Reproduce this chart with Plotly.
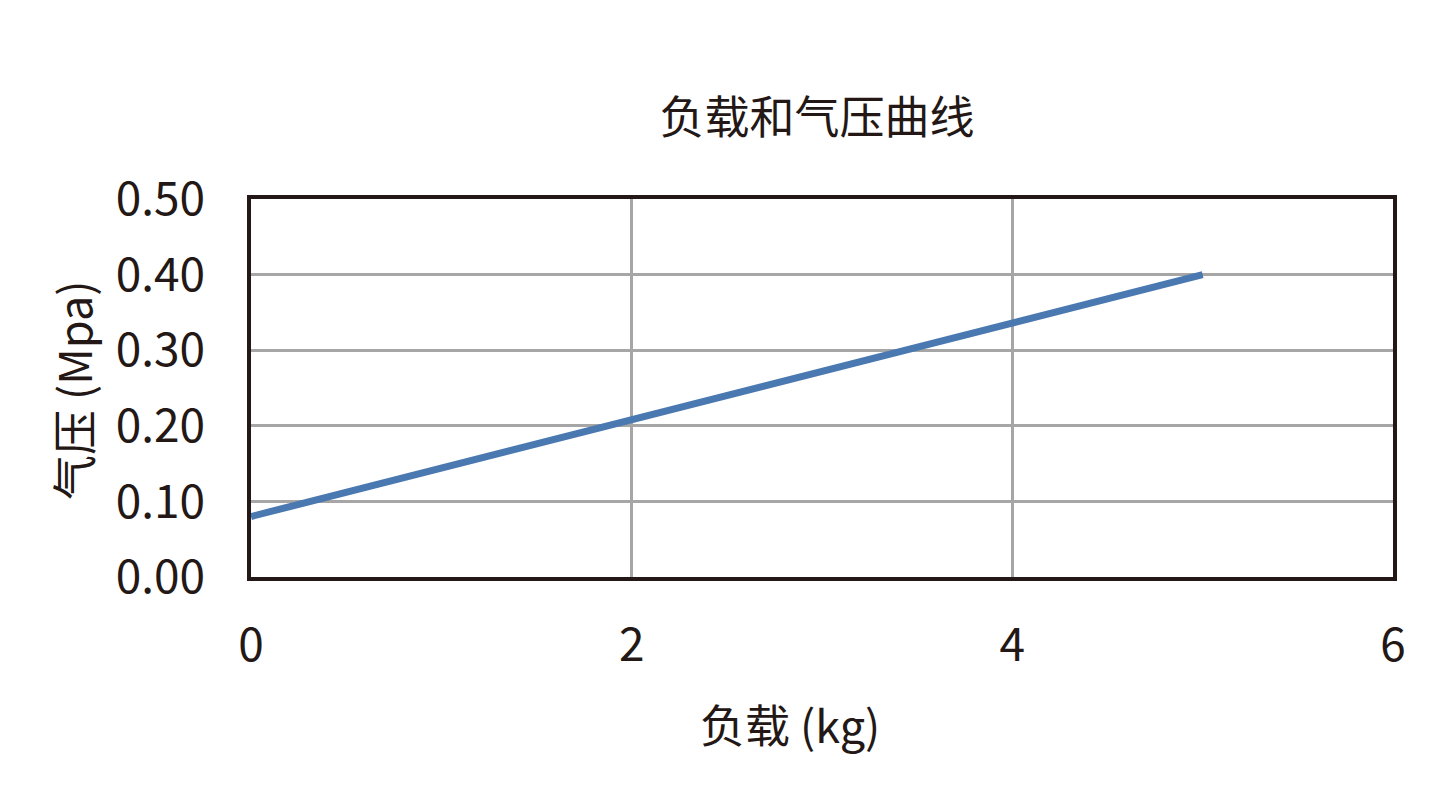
import plotly.graph_objects as go

load_kg = [0, 5]
pressure_mpa = [0.08, 0.40]
x_ticks = [0, 2, 4, 6]
y_ticks = [0.0, 0.1, 0.2, 0.3, 0.4, 0.5]
y_tick_labels = ["0.00", "0.10", "0.20", "0.30", "0.40", "0.50"]

FONT = "Noto Sans CJK SC"
TXT = "#231815"
W, H = 1438, 812
L, R, T, B = 243, 53, 191, 243
PW, PH = W - L - R, H - T - B

fig = go.Figure()
fig.add_trace(go.Scatter(
    x=load_kg, y=pressure_mpa, mode="lines",
    line=dict(color="#4a78b0", width=7),
    showlegend=False, hoverinfo="skip",
))

fig.update_layout(
    width=W, height=H,
    paper_bgcolor="white", plot_bgcolor="white",
    margin=dict(l=L, r=R, t=T, b=B),
    font=dict(family=FONT, color=TXT),
    title=dict(text="负载和气压曲线", x=809 / W, xanchor="center",
               y=1 - 110 / H, yanchor="middle",
               font=dict(size=45, family=FONT, color=TXT)),
    xaxis=dict(
        range=[0, 6], tickvals=x_ticks, ticktext=[str(v) for v in x_ticks],
        showgrid=True, gridcolor="#a6a6a6", gridwidth=3,
        showline=True, linecolor=TXT, linewidth=3.5, mirror=True,
        zeroline=False, ticks="", ticklabelstandoff=25,
        tickfont=dict(size=46, family=FONT, color=TXT),
    ),
    yaxis=dict(
        range=[0, 0.5], tickvals=y_ticks, ticktext=y_tick_labels,
        showgrid=True, gridcolor="#a6a6a6", gridwidth=3,
        showline=True, linecolor=TXT, linewidth=3.5, mirror=True,
        zeroline=False, ticks="", ticklabelstandoff=33,
        tickfont=dict(size=46, family=FONT, color=TXT),
    ),
    annotations=[
        dict(text="负载 (kg)", xref="paper", yref="paper",
             x=(782 - L) / PW, y=-(715 - (H - B)) / PH,
             xanchor="center", yanchor="middle", showarrow=False,
             font=dict(size=45, family=FONT, color=TXT)),
        dict(text="气压 (Mpa)", xref="paper", yref="paper",
             x=(64 - L) / PW, y=((H - B) - 382) / PH, textangle=-90,
             xanchor="center", yanchor="middle", showarrow=False,
             font=dict(size=45, family=FONT, color=TXT)),
    ],
)

fig.write_html("out.html")
